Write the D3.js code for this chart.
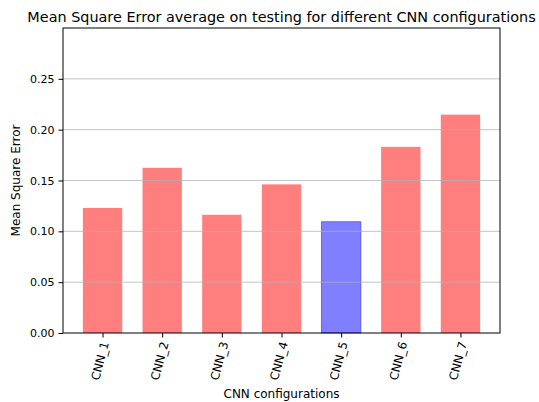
<!DOCTYPE html>
<html>
<head>
<meta charset="utf-8">
<script src="https://cdn.jsdelivr.net/npm/d3@7"></script>
<style>
  body { margin: 0; background: #fff; }
  text { font-family: "DejaVu Sans", sans-serif; fill: #000; }
</style>
</head>
<body>
<div id="chart"></div>
<script>
// data
const configs = ["CNN_1", "CNN_2", "CNN_3", "CNN_4", "CNN_5", "CNN_6", "CNN_7"];
const mse = [0.123, 0.1625, 0.1163, 0.1462, 0.1095, 0.1831, 0.2148];
const yTicks = [0.0, 0.05, 0.1, 0.15, 0.2, 0.25];
const bestConfig = "CNN_5";

const width = 539, height = 402;
const margin = { left: 63, top: 28, right: 39, bottom: 69 };
const barWidth = 0.66;

const svg = d3.select("#chart").append("svg")
  .attr("width", width)
  .attr("height", height);

//#region scales
const n = configs.length;
const pad = 0.05 * (n - 1 + barWidth);
const scaleX = d3.scaleLinear()
  .domain([-barWidth / 2 - pad, n - 1 + barWidth / 2 + pad])
  .range([margin.left, width - margin.right]);
const scaleY = d3.scaleLinear()
  .domain([0, 0.3])
  .range([height - margin.bottom, margin.top]);
//#endregion

//#region bars
svg.append("g")
  .selectAll("rect")
  .data(mse)
  .enter()
  .append("rect")
  .attr("x", (d, i) => scaleX(i - barWidth / 2))
  .attr("width", (d, i) => scaleX(i + barWidth / 2) - scaleX(i - barWidth / 2))
  .attr("y", d => scaleY(d))
  .attr("height", d => scaleY(0) - scaleY(d))
  .style("fill", (d, i) => configs[i] === bestConfig ? "rgba(0,0,255,0.5)" : "rgba(255,0,0,0.5)")
  .style("stroke", (d, i) => configs[i] === bestConfig ? "rgba(0,0,255,0.45)" : "none")
  .style("stroke-width", 1);
//#endregion

//#region grid (drawn above bars, as in the reference)
svg.append("g")
  .selectAll("line")
  .data(yTicks.filter(t => t > 0))
  .enter()
  .append("line")
  .attr("x1", margin.left)
  .attr("x2", width - margin.right)
  .attr("y1", d => scaleY(d))
  .attr("y2", d => scaleY(d))
  .style("stroke", "#b0b0b0")
  .style("stroke-opacity", 0.75)
  .style("stroke-width", 1);
//#endregion

//#region axes
const axisY = d3.axisLeft(scaleY)
  .tickValues(yTicks)
  .tickFormat(d3.format(".2f"))
  .tickSize(4.5)
  .tickPadding(4);
const yAxis = svg.append("g")
  .attr("transform", `translate(${margin.left},0)`)
  .call(axisY);
yAxis.select(".domain").remove();
yAxis.selectAll("text").style("font-size", "11px").style("font-family", "DejaVu Sans");

const axisX = d3.axisBottom(scaleX)
  .tickValues(d3.range(n))
  .tickFormat(i => configs[i])
  .tickSize(4.5);
const xAxis = svg.append("g")
  .attr("transform", `translate(0,${height - margin.bottom})`)
  .call(axisX);
xAxis.select(".domain").remove();
xAxis.selectAll("text")
  .style("font-size", "11.8px")
  .style("font-family", "DejaVu Sans")
  .attr("text-anchor", "end")
  .attr("y", 0)
  .attr("dy", 0)
  .attr("transform", "translate(6,10) rotate(-75)");

// frame
svg.append("rect")
  .attr("x", margin.left)
  .attr("y", margin.top)
  .attr("width", width - margin.left - margin.right)
  .attr("height", height - margin.top - margin.bottom)
  .style("fill", "none")
  .style("stroke", "#000")
  .style("stroke-width", 1);
//#endregion

//#region labels
svg.append("text")
  .text("Mean Square Error average on testing for different CNN configurations")
  .attr("x", (margin.left + width - margin.right) / 2)
  .attr("y", 21.5)
  .attr("text-anchor", "middle")
  .style("font-size", "14.4px");

svg.append("text")
  .text("CNN configurations")
  .attr("x", (margin.left + width - margin.right) / 2)
  .attr("y", 398)
  .attr("text-anchor", "middle")
  .style("font-size", "12px");

svg.append("text")
  .text("Mean Square Error")
  .attr("transform", `translate(20,${(margin.top + height - margin.bottom) / 2}) rotate(-90)`)
  .attr("text-anchor", "middle")
  .style("font-size", "12px");
//#endregion
</script>
</body>
</html>
